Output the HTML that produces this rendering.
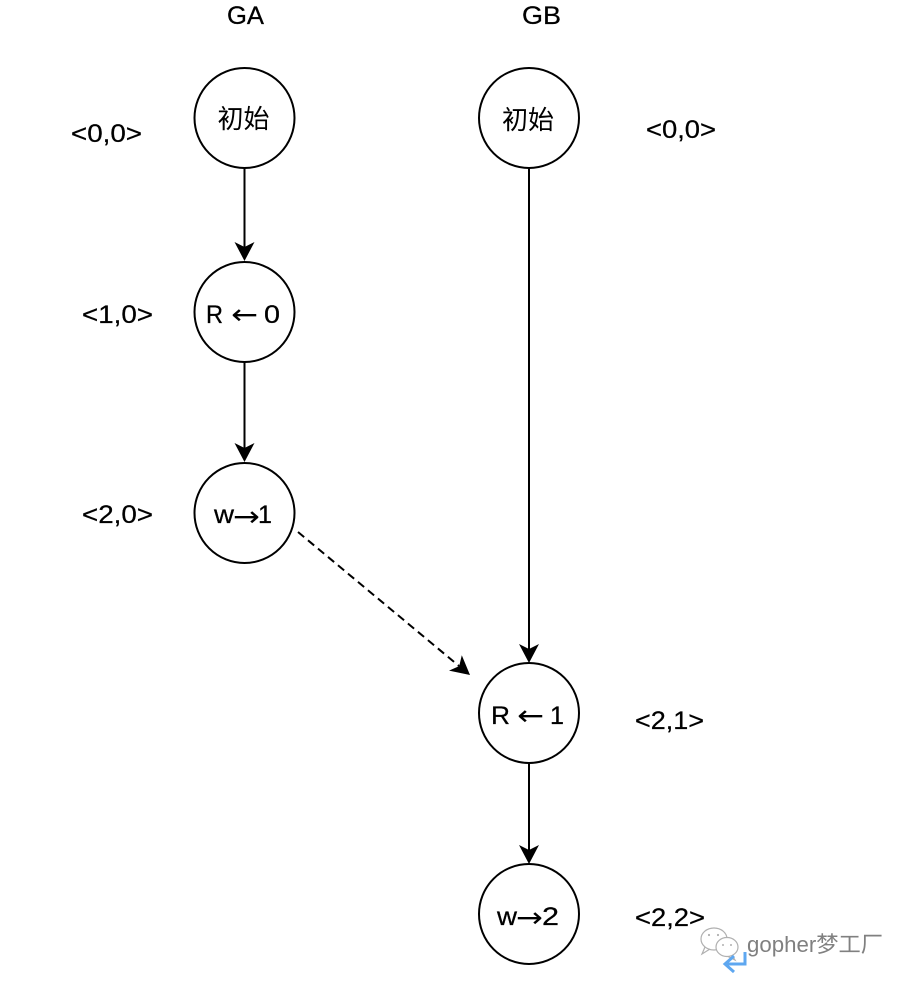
<!DOCTYPE html>
<html>
<head>
<meta charset="utf-8">
<style>
  html, body { margin: 0; padding: 0; background: #ffffff; }
  svg { display: block; }
  .t { font-family: "Liberation Sans", "DejaVu Sans", sans-serif; font-size: 25px; fill: #000; stroke: #000; stroke-width: 0.25px; }
  .ar { font-family: "DejaVu Sans", sans-serif; font-size: 28px; fill: #000; }
  .cjk { font-family: "Liberation Sans", "Noto Sans CJK SC", sans-serif; font-size: 26px; fill: #000; }
</style>
</head>
<body>
<svg width="914" height="986" viewBox="0 0 914 986" xmlns="http://www.w3.org/2000/svg">
  <rect x="0" y="0" width="914" height="986" fill="#ffffff"/>

  <!-- Column headers -->
  <text class="t" x="227" y="24" textLength="37" lengthAdjust="spacingAndGlyphs">GA</text>
  <text class="t" x="522" y="24" textLength="39" lengthAdjust="spacingAndGlyphs">GB</text>

  <!-- Connectors GA -->
  <line x1="244.5" y1="168" x2="244.5" y2="248" stroke="#000" stroke-width="2"/>
  <path d="M244.5,261 L234.5,242 L244.5,247 L254.5,242 Z" fill="#000"/>
  <line x1="244.5" y1="362" x2="244.5" y2="449" stroke="#000" stroke-width="2"/>
  <path d="M244.5,462 L234.5,443 L244.5,448 L254.5,443 Z" fill="#000"/>

  <!-- Connectors GB -->
  <line x1="529" y1="168" x2="529" y2="650" stroke="#000" stroke-width="2"/>
  <path d="M529,663 L519,644 L529,649 L539,644 Z" fill="#000"/>
  <line x1="529" y1="763" x2="529" y2="851" stroke="#000" stroke-width="2"/>
  <path d="M529,864 L519,845 L529,850 L539,845 Z" fill="#000"/>

  <!-- Dashed connector -->
  <line x1="298" y1="532" x2="459" y2="666" stroke="#000" stroke-width="2" stroke-dasharray="8 5"/>
  <path d="M470,675 L449,670.6 L459.2,666.1 L461.8,655.2 Z" fill="#000"/>

  <!-- Circles GA -->
  <circle cx="244.5" cy="118" r="50" fill="#fff" stroke="#000" stroke-width="2"/>
  <circle cx="244.5" cy="312" r="50" fill="#fff" stroke="#000" stroke-width="2"/>
  <circle cx="244.5" cy="513" r="50" fill="#fff" stroke="#000" stroke-width="2"/>

  <!-- Circles GB -->
  <circle cx="529" cy="118" r="50" fill="#fff" stroke="#000" stroke-width="2"/>
  <circle cx="529" cy="713" r="50" fill="#fff" stroke="#000" stroke-width="2"/>
  <circle cx="529" cy="914" r="50" fill="#fff" stroke="#000" stroke-width="2"/>

  <!-- Circle texts -->
  <text class="cjk" x="243.5" y="128" text-anchor="middle">初始</text>
  <text class="cjk" x="528" y="129" text-anchor="middle">初始</text>

  <text class="t" x="206" y="323" textLength="17" lengthAdjust="spacingAndGlyphs">R</text>
  <text class="ar" x="231" y="324" textLength="27" lengthAdjust="spacingAndGlyphs">←</text>
  <text class="t" x="264" y="323" textLength="16" lengthAdjust="spacingAndGlyphs">0</text>

  <text class="t" x="214" y="523" textLength="20" lengthAdjust="spacingAndGlyphs">w</text>
  <text class="ar" x="233" y="526" textLength="27" lengthAdjust="spacingAndGlyphs">→</text>
  <text class="t" x="258" y="523" textLength="14" lengthAdjust="spacingAndGlyphs">1</text>

  <text class="t" x="491" y="724" textLength="19" lengthAdjust="spacingAndGlyphs">R</text>
  <text class="ar" x="517" y="725" textLength="27" lengthAdjust="spacingAndGlyphs">←</text>
  <text class="t" x="550" y="724" textLength="14" lengthAdjust="spacingAndGlyphs">1</text>

  <text class="t" x="497" y="925" textLength="20" lengthAdjust="spacingAndGlyphs">w</text>
  <text class="ar" x="516" y="927" textLength="27" lengthAdjust="spacingAndGlyphs">→</text>
  <text class="t" x="542" y="925" textLength="17" lengthAdjust="spacingAndGlyphs">2</text>

  <!-- Side labels -->
  <text class="t" x="71" y="142" textLength="71" lengthAdjust="spacingAndGlyphs">&lt;0,0&gt;</text>
  <text class="t" x="82" y="323" textLength="71" lengthAdjust="spacingAndGlyphs">&lt;1,0&gt;</text>
  <text class="t" x="82" y="523" textLength="71" lengthAdjust="spacingAndGlyphs">&lt;2,0&gt;</text>
  <text class="t" x="646" y="138" textLength="70" lengthAdjust="spacingAndGlyphs">&lt;0,0&gt;</text>
  <text class="t" x="635" y="729" textLength="69" lengthAdjust="spacingAndGlyphs">&lt;2,1&gt;</text>
  <text class="t" x="635" y="926" textLength="70" lengthAdjust="spacingAndGlyphs">&lt;2,2&gt;</text>

  <!-- Watermark -->
  <g fill="none" stroke="#b0b0b0" stroke-width="1.2">
    <ellipse cx="714" cy="939" rx="13" ry="11" fill="#fff"/>
    <path d="M705,947 L702,954 L710,949"/>
    <ellipse cx="727" cy="947" rx="11" ry="9.5" fill="#fff"/>
    <path d="M732,955 L735,960 L728,956.5"/>
  </g>
  <circle cx="709" cy="935" r="1.1" fill="#b0b0b0"/>
  <circle cx="718" cy="935" r="1.1" fill="#b0b0b0"/>
  <circle cx="723" cy="945" r="1" fill="#b0b0b0"/>
  <circle cx="731" cy="945" r="1" fill="#b0b0b0"/>
  <text x="747" y="952" textLength="136" lengthAdjust="spacingAndGlyphs"
        style="font-family: 'Liberation Sans', 'Noto Sans CJK SC', sans-serif; font-size: 22px; fill: #808080;">gopher梦工厂</text>
  <path d="M745,952 V964 H725" fill="none" stroke="#5ea7f0" stroke-width="3"/>
  <path d="M734,956 L725,964 L734,972" fill="none" stroke="#5ea7f0" stroke-width="3"/>
</svg>
</body>
</html>
